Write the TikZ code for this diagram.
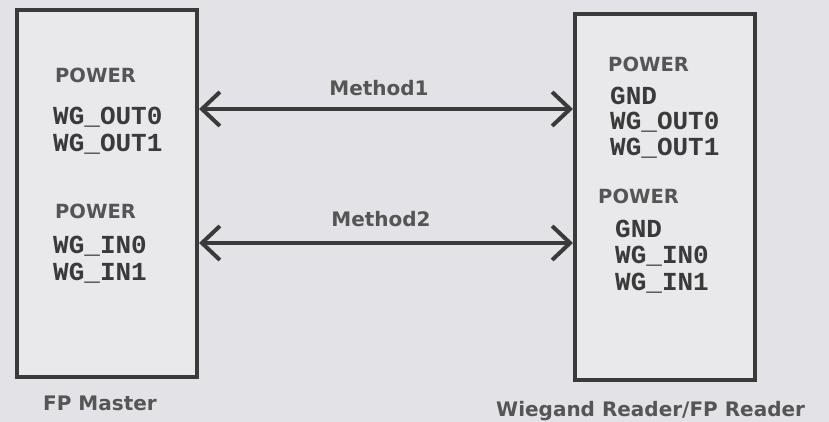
\documentclass[tikz,border=0pt]{standalone}
\usepackage{fontspec}
\setmainfont{DejaVu Sans}
\newfontfamily\pinfont{Liberation Mono}
\usetikzlibrary{arrows.meta}
\definecolor{bg}{HTML}{E3E3E7}
\definecolor{boxfill}{HTML}{E9E9EC}
\definecolor{ink}{HTML}{3A3A3A}
\definecolor{txt}{HTML}{555555}
\tikzset{
  box/.style={draw=ink, line width=4pt, fill=boxfill, minimum width=180pt, minimum height=366pt, inner sep=0pt},
  hdr/.style={anchor=base west, inner sep=0pt, text=txt, font=\fontsize{19.5}{21}\selectfont\bfseries},
  pin/.style={anchor=base west, inner sep=0pt, text=ink, font=\fontsize{26}{28}\selectfont\pinfont\bfseries},
  boxcaption/.style={anchor=base west, inner sep=0pt, text=txt, font=\fontsize{20}{22}\selectfont\bfseries},
  link/.style={draw=ink, line width=4pt, {Straight Barb[length=18pt,width=34pt]}-{Straight Barb[length=18pt,width=34pt]}},
  mlabel/.style={inner sep=0pt, text=txt, font=\fontsize{20}{22}\selectfont\bfseries}
}
\begin{document}
\begin{tikzpicture}[x=1pt,y=-1pt]
\fill[bg] (0,0) rectangle (829,422);
\useasboundingbox (0,0) rectangle (829,422);
\node[box] (lb) at (107,193.5) {};
\node[box] (rb) at (665,197) {};
% left texts
\node[hdr] (l1) at (55,83) {POWER};
\node[pin] (l2) at (53,125) {WG\_OUT0};
\node[pin] (l3) at (53,152) {WG\_OUT1};
\node[hdr] (l4) at (55,218) {POWER};
\node[pin] (l5) at (53,253) {WG\_IN0};
\node[pin] (l6) at (53,280) {WG\_IN1};
\node[boxcaption] (lc) at (43,410) {FP Master};
% right texts
\node[hdr] (r1) at (608,72) {POWER};
\node[pin] (r2) at (610,105) {GND};
\node[pin] (r3) at (610,130) {WG\_OUT0};
\node[pin] (r4) at (610,156) {WG\_OUT1};
\node[hdr] (r5) at (598,204) {POWER};
\node[pin] (r6) at (615,237) {GND};
\node[pin] (r7) at (615,263) {WG\_IN0};
\node[pin] (r8) at (615,290) {WG\_IN1};
\node[boxcaption] (rc) at (496,416) {Wiegand Reader/FP Reader};
% connectors
\coordinate (y1) at (0,109);
\coordinate (y2) at (0,243);
\draw[link] (lb.east |- y1) -- (rb.west |- y1);
\draw[link] (lb.east |- y2) -- (rb.west |- y2);
\node[mlabel] (m1) at (379,88) {Method1};
\node[mlabel] (m2) at (381,219) {Method2};
\end{tikzpicture}
\end{document}
